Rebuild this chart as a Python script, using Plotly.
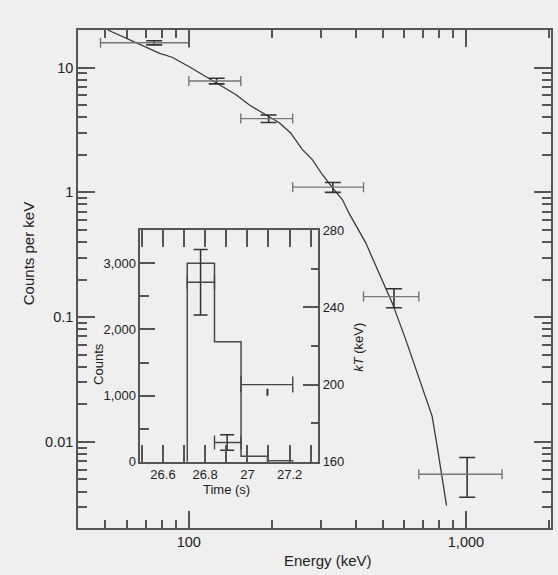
import plotly.graph_objects as go

# ---------------- Main spectrum data ----------------
energy_center = [75, 126, 194, 331, 550, 1010]
energy_lo = [48, 100, 154, 237, 427, 676]
energy_hi = [100, 154, 237, 427, 676, 1350]
counts_per_kev = [15.8, 7.8, 3.9, 1.1, 0.146, 0.0055]
counts_hi = [16.4, 8.2, 4.17, 1.2, 0.169, 0.0075]
counts_lo = [15.2, 7.4, 3.63, 1.0, 0.119, 0.0036]

# model curve
model_energy = [51, 65, 78.5, 87, 100, 122, 148, 165, 184, 212, 233, 257, 279, 303,
                334, 358, 378, 435, 485, 542, 606, 667, 715, 755, 787, 821, 851]
model_counts = [20, 15.8, 13.0, 12.1, 10.2, 7.84, 6.05, 5.03, 4.34, 3.61, 2.99, 2.2,
                1.83, 1.39, 1.05, 0.875, 0.684, 0.394, 0.227, 0.130, 0.0663, 0.0359,
                0.0233, 0.0161, 0.0093, 0.00503, 0.00308]

x_tickvals = [100, 1000]
x_ticktext = ["100", "1,000"]
x_minor = [40, 50, 60, 70, 80, 90, 200, 300, 400, 500, 600, 700, 800, 900, 2000]
y_tickvals = [0.01, 0.1, 1, 10]
y_ticktext = ["0.01", "0.1", "1", "10"]
y_minor = [m * d for d in (0.001, 0.01, 0.1, 1) for m in range(2, 10)] + [20]

# ---------------- Inset data ----------------
hist_edges = [26.715, 26.844, 26.97, 27.095, 27.215]
hist_counts = [3000, 1815, 85, 15]

kt_time = [26.778, 26.904, 27.095]
kt_time_lo = [26.715, 26.844, 26.97]
kt_time_hi = [26.844, 26.97, 27.215]
kt_value = [253, 170, 200]
kt_err_plus = [17, 4, 0]
kt_err_minus = [17, 4, 0]
kt_limit = 196  # small downward mark under the third point

inset_x_tickvals = [26.6, 26.8, 27.0, 27.2]
inset_x_ticktext = ["26.6", "26.8", "27", "27.2"]
inset_x_minor = [26.5, 26.7, 26.9, 27.1, 27.3]
counts_tickvals = [0, 1000, 2000, 3000]
counts_ticktext = ["0", "1,000", "2,000", "3,000"]
counts_minor = [500, 1500, 2500]
kt_tickvals = [160, 200, 240, 280]
kt_minor = [180, 220, 260]

BG = "#efefef"
AX = "#555555"
TXT = "#222222"
FONT = "Liberation Sans, Arial, sans-serif"

fig = go.Figure()

# model curve
fig.add_trace(go.Scatter(x=model_energy, y=model_counts, mode="lines",
                         line=dict(color="#3a3a3a", width=1.3),
                         xaxis="x", yaxis="y", showlegend=False, hoverinfo="skip"))

# spectrum data with error bars
fig.add_trace(go.Scatter(
    x=energy_center, y=counts_per_kev, mode="markers",
    marker=dict(size=1, color="rgba(0,0,0,0)"),
    error_x=dict(type="data", symmetric=False,
                 array=[h - c for h, c in zip(energy_hi, energy_center)],
                 arrayminus=[c - l for l, c in zip(energy_lo, energy_center)],
                 color="#777777", thickness=1.4, width=5),
    error_y=dict(type="data", symmetric=False,
                 array=[h - c for h, c in zip(counts_hi, counts_per_kev)],
                 arrayminus=[c - l for l, c in zip(counts_lo, counts_per_kev)],
                 color="#333333", thickness=1.6, width=8),
    xaxis="x", yaxis="y", showlegend=False))

# inset histogram (step)
step_x = [hist_edges[0]] + hist_edges[1:] + [hist_edges[-1]]
step_x = [hist_edges[0]] + hist_edges
step_y = [0] + hist_counts + [0]
fig.add_trace(go.Scatter(x=step_x, y=step_y, mode="lines", line_shape="hv",
                         line=dict(color="#4a4a4a", width=1.5),
                         xaxis="x2", yaxis="y2", showlegend=False, hoverinfo="skip"))

# inset kT points (first two with caps)
fig.add_trace(go.Scatter(
    x=kt_time[:2], y=kt_value[:2], mode="markers",
    marker=dict(size=1, color="rgba(0,0,0,0)"),
    error_x=dict(type="data", symmetric=False,
                 array=[h - c for h, c in zip(kt_time_hi[:2], kt_time[:2])],
                 arrayminus=[c - l for l, c in zip(kt_time_lo[:2], kt_time[:2])],
                 color="#444444", thickness=1.4, width=7),
    error_y=dict(type="data", symmetric=False, array=kt_err_plus[:2],
                 arrayminus=kt_err_minus[:2], color="#333333", thickness=1.5, width=7),
    xaxis="x2", yaxis="y3", showlegend=False))

# third kT point: horizontal bar only
fig.add_trace(go.Scatter(
    x=kt_time[2:], y=kt_value[2:], mode="markers",
    marker=dict(size=1, color="rgba(0,0,0,0)"),
    error_x=dict(type="data", symmetric=False,
                 array=[h - c for h, c in zip(kt_time_hi[2:], kt_time[2:])],
                 arrayminus=[c - l for l, c in zip(kt_time_lo[2:], kt_time[2:])],
                 color="#444444", thickness=1.4, width=8),
    xaxis="x2", yaxis="y3", showlegend=False))
fig.add_trace(go.Scatter(
    x=kt_time[2:], y=[kt_limit], mode="markers",
    marker=dict(symbol="line-ns", size=5, line=dict(color="#333333", width=2)),
    xaxis="x2", yaxis="y3", showlegend=False, hoverinfo="skip"))

tick_font = dict(family=FONT, size=14.5, color=TXT)
inset_font = dict(family=FONT, size=13, color=TXT)

main_axis_common = dict(showgrid=False, zeroline=False, showline=True, linecolor=AX,
                        linewidth=1.5, ticks="inside", tickcolor=AX, tickwidth=1.5,
                        ticklen=17, tickfont=tick_font)

fig.update_layout(
    width=558, height=575,
    margin=dict(l=78, r=5, t=30, b=47),
    paper_bgcolor=BG, plot_bgcolor=BG,
    font=dict(family=FONT, color=TXT),
    xaxis=dict(type="log", range=[1.6, 3.307], domain=[0, 1], anchor="y",
               tickmode="array", tickvals=x_tickvals, ticktext=x_ticktext,
               mirror="allticks",
               minor=dict(tickmode="array", tickvals=x_minor, ticks="inside",
                          ticklen=8, tickcolor=AX, tickwidth=1.5, showgrid=False),
               **main_axis_common),
    yaxis=dict(type="log", range=[-2.69, 1.301], domain=[0, 1], anchor="x",
               tickmode="array", tickvals=y_tickvals, ticktext=y_ticktext,
               mirror="ticks",
               minor=dict(tickmode="array", tickvals=y_minor, ticks="inside",
                          ticklen=9, tickcolor=AX, tickwidth=1.5, showgrid=False),
               **main_axis_common),
    xaxis2=dict(range=[26.493, 27.336], domain=[0.132, 0.508], anchor="y2",
                tickmode="array", tickvals=inset_x_tickvals, ticktext=inset_x_ticktext,
                showgrid=False, zeroline=False, showline=True, linecolor=AX, linewidth=1.5,
                mirror="allticks", ticks="inside", ticklen=17, tickcolor=AX, tickwidth=1.5,
                tickfont=inset_font,
                minor=dict(tickmode="array", tickvals=inset_x_minor, ticks="inside",
                           ticklen=8, tickcolor=AX, tickwidth=1.5, showgrid=False)),
    yaxis2=dict(range=[0, 3500], domain=[0.133, 0.598], anchor="x2",
                tickmode="array", tickvals=counts_tickvals, ticktext=counts_ticktext,
                showgrid=False, zeroline=False, showline=True, linecolor=AX, linewidth=1.5,
                ticks="inside", ticklen=15, tickcolor=AX, tickwidth=1.5, tickfont=inset_font,
                minor=dict(tickmode="array", tickvals=counts_minor, ticks="inside",
                           ticklen=9, tickcolor=AX, tickwidth=1.5, showgrid=False)),
    yaxis3=dict(range=[160, 280], overlaying="y2", side="right", anchor="x2",
                tickmode="array", tickvals=kt_tickvals,
                showgrid=False, zeroline=False, showline=True, linecolor=AX, linewidth=1.5,
                ticks="inside", ticklen=16, tickcolor=AX, tickwidth=1.5, tickfont=inset_font,
                minor=dict(tickmode="array", tickvals=kt_minor, ticks="inside",
                           ticklen=8, tickcolor=AX, tickwidth=1.5, showgrid=False)),
)

def px_to_paper(px, py):
    return (px - 78) / 475.0, (528 - py) / 498.0

annos = [
    ("Counts per keV", 28, 254, -90, 15),
    ("Energy (keV)", 329, 560, 0, 15),
    ("Counts", 98, 364, -90, 13),
    ("<i>kT</i> (keV)", 360, 347, -90, 13),
    ("Time (s)", 227, 490, 0, 13),
]
for text, px, py, ang, size in annos:
    ax_, ay_ = px_to_paper(px, py)
    fig.add_annotation(text=text, x=ax_, y=ay_, xref="paper", yref="paper",
                       xanchor="center", yanchor="middle", showarrow=False,
                       textangle=ang, font=dict(family=FONT, size=size, color=TXT))

fig.write_html("out.html")
